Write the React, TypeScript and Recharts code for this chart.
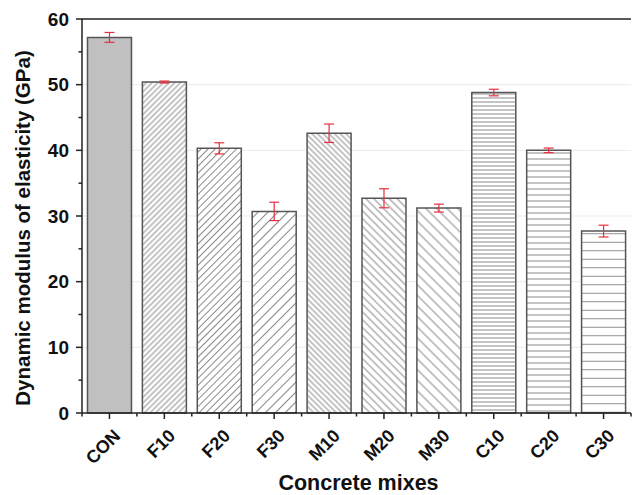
import {
  BarChart,
  Bar,
  Cell,
  XAxis,
  YAxis,
  CartesianGrid,
  ErrorBar,
  ReferenceLine,
  Label,
} from "recharts";

// mixes and measured dynamic modulus (GPa) with standard deviation
const MIXES = ["CON", "F10", "F20", "F30", "M10", "M20", "M30", "C10", "C20", "C30"];
const MODULUS = [57.2, 50.4, 40.3, 30.7, 42.6, 32.7, 31.2, 48.8, 40.0, 27.7];
const ERRORS = [0.75, 0.15, 0.85, 1.4, 1.4, 1.45, 0.6, 0.5, 0.35, 0.9];

// every 5 GPa; labels only on multiples of 10
const Y_TICKS = [0, 5, 10, 15, 20, 25, 30, 35, 40, 45, 50, 55, 60];

const FONT = "'Liberation Sans', Arial, sans-serif";
const AXIS = "#222";
const EDGE = "#555";
const HATCH = "#8a8a8a";
const Y_GAP = 12; // tick label to axis line

// hatch for each mix: angle of the lines and their spacing
const HATCHES: Record<string, { angle: number; gap: number }> = {
  F10: { angle: 45, gap: 4 },
  F20: { angle: 45, gap: 5 },
  F30: { angle: 45, gap: 7 },
  M10: { angle: -45, gap: 4 },
  M20: { angle: -45, gap: 5.5 },
  M30: { angle: -45, gap: 7.5 },
  C10: { angle: 90, gap: 4 },
  C20: { angle: 90, gap: 6 },
  C30: { angle: 90, gap: 8.5 },
};

const data = MIXES.map((mix, i) => ({ mix, modulus: MODULUS[i], err: ERRORS[i] }));

const fillFor = (mix: string) => (HATCHES[mix] ? `url(#hatch-${mix})` : "#c0c0c0");

// x tick: long tick at the centre, short ones on the category edges
const MixTick = ({ x, y, payload, width, visibleTicksCount, index }: any) => {
  const bw = width / visibleTicksCount;
  const tx = x + 12;
  const ty = y + 24;
  return (
    <g>
      <line x1={x} y1={y} x2={x} y2={y + 6} stroke={AXIS} strokeWidth={1.5} />
      <line x1={x - bw / 2} y1={y} x2={x - bw / 2} y2={y + 3.5} stroke={AXIS} strokeWidth={1.5} />
      {index === visibleTicksCount - 1 && (
        <line x1={x + bw / 2} y1={y} x2={x + bw / 2} y2={y + 3.5} stroke={AXIS} strokeWidth={1.5} />
      )}
      <text
        x={tx}
        y={ty}
        transform={`rotate(-45, ${tx}, ${ty})`}
        textAnchor="end"
        fontFamily={FONT}
        fontWeight="bold"
        fontSize={18}
        fill="#111"
      >
        {payload.value}
      </text>
    </g>
  );
};

const ModulusTick = ({ x, y, payload }: any) => {
  const major = payload.value % 10 === 0;
  const ax = x + Y_GAP;
  return (
    <g>
      <line x1={ax - (major ? 6 : 3.5)} y1={y} x2={ax} y2={y} stroke={AXIS} strokeWidth={1.5} />
      {major && (
        <text
          x={x - 1}
          y={y}
          textAnchor="end"
          dominantBaseline="central"
          fontFamily={FONT}
          fontWeight="bold"
          fontSize={19}
          fill="#111"
        >
          {payload.value}
        </text>
      )}
    </g>
  );
};

export default function App() {
  return (
    <div style={{ position: "fixed", left: 0, top: 0, background: "#fff" }}>
      <BarChart
        width={636}
        height={495}
        data={data}
        margin={{ top: 19, right: 5, left: 0, bottom: 0 }}
        barCategoryGap="10%"
      >
        <defs>
          {Object.entries(HATCHES).map(([mix, h]) => (
            <pattern
              key={mix}
              id={`hatch-${mix}`}
              patternUnits="userSpaceOnUse"
              width={h.gap}
              height={h.gap}
              patternTransform={`rotate(${h.angle})`}
            >
              <rect width={h.gap} height={h.gap} fill="#fff" />
              <line
                x1={h.gap / 2}
                y1={0}
                x2={h.gap / 2}
                y2={h.gap}
                stroke={HATCH}
                strokeWidth={1}
              />
            </pattern>
          ))}
        </defs>

        <CartesianGrid
          vertical={false}
          stroke="#ebebeb"
          horizontalValues={[10, 20, 30, 40, 50]}
        />

        <XAxis
          dataKey="mix"
          height={82}
          interval={0}
          tick={<MixTick />}
          tickLine={false}
          tickSize={0}
          tickMargin={0}
          axisLine={{ stroke: AXIS, strokeWidth: 1.5 }}
        >
          <Label
            content={({ viewBox }: any) => (
              <text
                x={viewBox.x + viewBox.width / 2 + 2}
                y={viewBox.y + 77}
                textAnchor="middle"
                fontFamily={FONT}
                fontWeight="bold"
                fontSize={21.5}
                fill="#111"
              >
                Concrete mixes
              </text>
            )}
          />
        </XAxis>
        <YAxis
          domain={[0, 60]}
          ticks={Y_TICKS}
          interval={0}
          width={82}
          tickLine={false}
          tickSize={0}
          tickMargin={Y_GAP}
          tick={<ModulusTick />}
          axisLine={{ stroke: AXIS, strokeWidth: 1.5 }}
        >
          <Label
            content={({ viewBox }: any) => {
              const cx = 22;
              const cy = viewBox.y + viewBox.height / 2 + 12;
              return (
                <text
                  x={cx}
                  y={cy}
                  transform={`rotate(-90, ${cx}, ${cy})`}
                  textAnchor="middle"
                  dominantBaseline="central"
                  fontFamily={FONT}
                  fontWeight="bold"
                  fontSize={20.5}
                  fill="#111"
                >
                  Dynamic modulus of elasticity (GPa)
                </text>
              );
            }}
          />
        </YAxis>

        {/* top edge of the frame */}
        <ReferenceLine y={60} stroke={AXIS} strokeWidth={1.5} />

        <Bar dataKey="modulus" stroke={EDGE} strokeWidth={1.5} isAnimationActive={false}>
          {data.map((d) => (
            <Cell key={d.mix} fill={fillFor(d.mix)} />
          ))}
          <ErrorBar
            dataKey="err"
            direction="y"
            width={5}
            stroke="#e5303f"
            strokeWidth={1.2}
            isAnimationActive={false}
          />
        </Bar>

        {/* right edge of the frame */}
        <YAxis
          yAxisId="frame"
          orientation="right"
          domain={[0, 60]}
          width={0}
          tick={false}
          tickLine={false}
          axisLine={{ stroke: AXIS, strokeWidth: 1.5 }}
        />
      </BarChart>
    </div>
  );
}
